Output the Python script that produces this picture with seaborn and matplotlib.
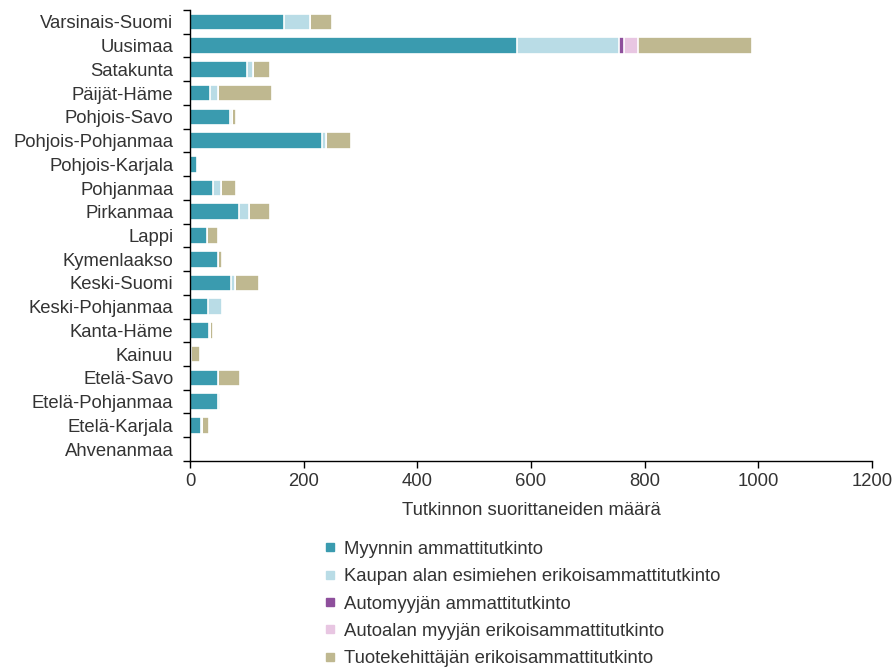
import matplotlib
matplotlib.use("Agg")
import matplotlib.pyplot as plt
from matplotlib.lines import Line2D
import seaborn as sns
import pandas as pd
import numpy as np

regions = ["Varsinais-Suomi", "Uusimaa", "Satakunta", "Päijät-Häme", "Pohjois-Savo",
           "Pohjois-Pohjanmaa", "Pohjois-Karjala", "Pohjanmaa", "Pirkanmaa", "Lappi",
           "Kymenlaakso", "Keski-Suomi", "Keski-Pohjanmaa", "Kanta-Häme", "Kainuu",
           "Etelä-Savo", "Etelä-Pohjanmaa", "Etelä-Karjala", "Ahvenanmaa"]

series = ["Myynnin ammattitutkinto",
          "Kaupan alan esimiehen erikoisammattitutkinto",
          "Automyyjän ammattitutkinto",
          "Autoalan myyjän erikoisammattitutkinto",
          "Tuotekehittäjän erikoisammattitutkinto"]

myynti   = [165, 575, 101, 35, 70, 233, 13, 40, 87, 30, 50, 72, 32, 33, 2, 50, 50, 19, 0]
kaupan   = [47, 180, 10, 15, 4, 7, 0, 14, 16, 0, 0, 7, 25, 2, 0, 0, 3, 2, 0]
automyy  = [0, 8, 0, 0, 0, 0, 0, 0, 0, 0, 0, 0, 0, 0, 0, 0, 0, 0, 0]
autoala  = [0, 25, 0, 0, 0, 0, 0, 0, 0, 0, 0, 0, 0, 0, 0, 0, 0, 0, 0]
tuote    = [37, 200, 30, 95, 7, 44, 0, 27, 37, 19, 6, 42, 0, 5, 16, 38, 0, 12, 0]

colors = ["#3A9BAF", "#B9DCE6", "#8E4F9C", "#E8C6E2", "#BFB890"]

values = [myynti, kaupan, automyy, autoala, tuote]
cum = np.cumsum(np.array(values), axis=0)

plt.rcParams['font.family'] = ['Liberation Sans', 'DejaVu Sans']
FS = 13.3
TXT = "#333333"
fig = plt.figure(figsize=(8.95, 6.69), dpi=100)
ax = fig.add_axes([0.2123, 0.311, 0.762, 0.674])

# draw cumulative totals from the last layer to the first (stacked look)
for i in range(len(series) - 1, -1, -1):
    df = pd.DataFrame({"region": regions, "value": cum[i]})
    sns.barplot(data=df, x="value", y="region", order=regions, orient="h",
                color=colors[i], saturation=1, width=0.70, ax=ax,
                edgecolor="white", linewidth=1.2, zorder=2 + (len(series) - i))

ax.set_xlim(0, 1200)
ax.set_xticks(range(0, 1201, 200))
ax.set_ylim(len(regions) - 0.5, -0.5)
ax.set_ylabel("")
ax.set_xlabel("Tutkinnon suorittaneiden määrä", fontsize=FS, labelpad=8, color=TXT)

for s in ["top", "right"]:
    ax.spines[s].set_visible(False)
for s in ["left", "bottom"]:
    ax.spines[s].set_color("black")
    ax.spines[s].set_linewidth(1.0)
    ax.spines[s].set_zorder(20)

# category ticks placed at boundaries
ax.set_yticks(np.arange(len(regions)))
ax.set_yticklabels(regions, fontsize=FS, color=TXT)
ax.tick_params(axis="y", length=0, pad=12)
ax.set_yticks(np.arange(-0.5, len(regions), 1), minor=True)
ax.tick_params(axis="y", which="minor", length=5, width=1, color="black")
ax.tick_params(axis="x", length=5, width=1, color="black", labelsize=FS,
               labelcolor=TXT, pad=4)
ax.grid(False)

handles = [Line2D([0], [0], marker="s", linestyle="", markersize=5.5,
                  markerfacecolor=c, markeredgecolor=c) for c in colors]
fig.legend(handles, series, loc="upper left", bbox_to_anchor=(0.3626, 0.1915),
           frameon=False, fontsize=FS, handlelength=0.6, handletextpad=0.45,
           labelspacing=0.56, borderaxespad=0, borderpad=0, labelcolor=TXT)

fig.savefig("out.png", dpi=100)
